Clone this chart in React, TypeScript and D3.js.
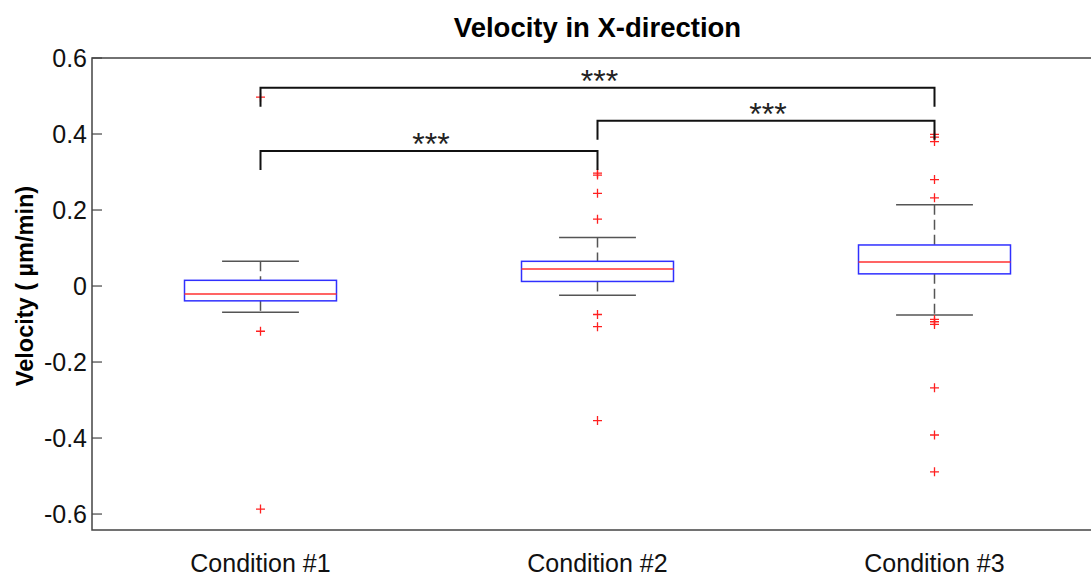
import React, { useEffect, useRef } from 'react';
import * as d3 from 'd3';

// box statistics (um/min)
const categories = ['Condition #1', 'Condition #2', 'Condition #3'];
const q1 = [-0.039, 0.012, 0.032];
const medians = [-0.021, 0.045, 0.063];
const q3 = [0.015, 0.065, 0.108];
const whiskerLow = [-0.069, -0.024, -0.076];
const whiskerHigh = [0.065, 0.128, 0.214];
const outliers = [
    [0.497, -0.119, -0.587],
    [0.297, 0.292, 0.244, 0.176, -0.075, -0.107, -0.354],
    [0.399, 0.392, 0.380, 0.280, 0.232, -0.088, -0.094, -0.101, -0.268, -0.392, -0.489],
];
const yTicks = [-0.6, -0.4, -0.2, 0, 0.2, 0.4, 0.6];
// significance brackets: [from, to, level, label]
const brackets: [number, number, number, string][] = [
    [1, 3, 0.522, '***'],
    [2, 3, 0.435, '***'],
    [1, 2, 0.355, '***'],
];

const FONT = "Arial, 'Liberation Sans', Helvetica, sans-serif";

export default function App() {
    const ref = useRef<SVGSVGElement>(null);

    useEffect(() => {
        const width = 1091, height = 576,
            margin = { top: 58, right: -12, bottom: 46, left: 92 };

        // x: category index, y: velocity
        const x = d3.scaleLinear().domain([0.5, 3.5]).range([margin.left, width - margin.right]);
        const y = d3.scaleLinear().domain([-0.642, 0.6]).range([height - margin.bottom, margin.top]);
        const boxHalf = 0.2255, capHalf = 0.114, legDrop = 0.05;

        const svg = d3.select(ref.current);
        svg.selectAll('*').remove();

        // frame
        svg.append('path')
            .attr('d', `M${x(3.5)},${y(0.6)}H${x(0.5)}V${y(-0.642)}H${x(3.5)}`)
            .attr('stroke', '#444').attr('stroke-width', 1.5).attr('fill', 'none');

        // y ticks and labels
        const yg = svg.append('g');
        yg.selectAll('line').data(yTicks).enter().append('line')
            .attr('x1', x(0.5)).attr('x2', x(0.5) + 10)
            .attr('y1', d => y(d)).attr('y2', d => y(d))
            .attr('stroke', '#444').attr('stroke-width', 1.2);
        yg.selectAll('text').data(yTicks).enter().append('text')
            .attr('x', x(0.5) - 5).attr('y', d => y(d)).attr('dy', '0.36em')
            .attr('text-anchor', 'end')
            .attr('font-family', FONT).attr('font-size', 25).attr('fill', '#111')
            .text(d => (d === 0 ? '0' : d.toFixed(1)));

        // x labels
        svg.append('g').selectAll('text').data(categories).enter().append('text')
            .attr('x', (d, i) => x(i + 1)).attr('y', 572)
            .attr('text-anchor', 'middle')
            .attr('font-family', FONT).attr('font-size', 25).attr('fill', '#111')
            .text(d => d);

        // boxes
        const boxes = svg.append('g').selectAll('g').data(categories).enter().append('g');
        boxes.append('line')
            .attr('x1', (d, i) => x(i + 1)).attr('x2', (d, i) => x(i + 1))
            .attr('y1', (d, i) => y(whiskerHigh[i])).attr('y2', (d, i) => y(q3[i]))
            .attr('stroke', '#555').attr('stroke-width', 1.5).attr('stroke-dasharray', '10,5');
        boxes.append('line')
            .attr('x1', (d, i) => x(i + 1)).attr('x2', (d, i) => x(i + 1))
            .attr('y1', (d, i) => y(q1[i])).attr('y2', (d, i) => y(whiskerLow[i]))
            .attr('stroke', '#555').attr('stroke-width', 1.5).attr('stroke-dasharray', '10,5');
        [whiskerHigh, whiskerLow].forEach(arr => {
            boxes.append('line')
                .attr('x1', (d, i) => x(i + 1 - capHalf)).attr('x2', (d, i) => x(i + 1 + capHalf))
                .attr('y1', (d, i) => y(arr[i])).attr('y2', (d, i) => y(arr[i]))
                .attr('stroke', '#555').attr('stroke-width', 1.5);
        });
        boxes.append('rect')
            .attr('x', (d, i) => x(i + 1 - boxHalf))
            .attr('width', (d, i) => x(i + 1 + boxHalf) - x(i + 1 - boxHalf))
            .attr('y', (d, i) => y(q3[i]))
            .attr('height', (d, i) => y(q1[i]) - y(q3[i]))
            .attr('fill', 'none').attr('stroke', '#3030ff').attr('stroke-width', 1.5);
        boxes.append('line')
            .attr('x1', (d, i) => x(i + 1 - boxHalf)).attr('x2', (d, i) => x(i + 1 + boxHalf))
            .attr('y1', (d, i) => y(medians[i])).attr('y2', (d, i) => y(medians[i]))
            .attr('stroke', '#ff3030').attr('stroke-width', 1.5);

        // outliers as red plus signs
        const pts = outliers.flatMap((arr, i) => arr.map(v => [i + 1, v]));
        svg.append('g').selectAll('path').data(pts).enter().append('path')
            .attr('d', d => `M${x(d[0]) - 4.5},${y(d[1])}h9M${x(d[0])},${y(d[1]) - 4.5}v9`)
            .attr('stroke', '#ff2020').attr('stroke-width', 1.3).attr('fill', 'none');

        // significance brackets
        const br = svg.append('g');
        br.selectAll('path').data(brackets).enter().append('path')
            .attr('d', d => `M${x(d[0])},${y(d[2] - legDrop)}V${y(d[2])}H${x(d[1])}V${y(d[2] - legDrop)}`)
            .attr('fill', 'none').attr('stroke', '#111').attr('stroke-width', 2);
        br.selectAll('text').data(brackets).enter().append('text')
            .attr('x', d => x((d[0] + d[1]) / 2) + 2).attr('y', d => y(d[2]) + 4)
            .attr('text-anchor', 'middle')
            .attr('font-family', FONT).attr('font-size', 32).attr('fill', '#222')
            .text(d => d[3]);

        // title and y label
        svg.append('text')
            .attr('x', x(2)).attr('y', 37).attr('text-anchor', 'middle')
            .attr('font-family', FONT).attr('font-size', 27.5).attr('font-weight', 'bold')
            .text('Velocity in X-direction');
        svg.append('text')
            .attr('transform', `translate(33,${y(0)}) rotate(-90)`)
            .attr('text-anchor', 'middle')
            .attr('font-family', FONT).attr('font-size', 23.5).attr('font-weight', 'bold')
            .text('Velocity ( \u00b5m/min)');
    }, []);

    return (
        <svg ref={ref} width={1091} height={576}
            style={{ position: 'absolute', left: 0, top: 0, background: '#fff' }} />
    );
}
